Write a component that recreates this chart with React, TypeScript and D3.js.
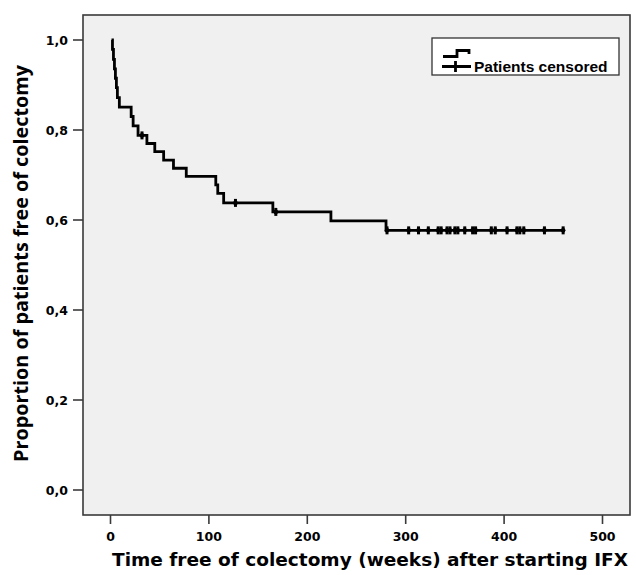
import React, { useEffect, useRef } from "react";
import * as d3 from "d3";

// Kaplan-Meier steps (weeks, proportion free of colectomy after the step)
const stepTimes = [1, 2, 3, 4, 5, 6, 7, 9, 21, 23, 28, 37, 45, 54, 64, 77, 107, 109, 115, 165, 224, 280];
const stepSurvival = [1.0, 0.979, 0.957, 0.936, 0.915, 0.894, 0.872, 0.851, 0.830, 0.809, 0.788, 0.770, 0.752, 0.733, 0.715, 0.697, 0.678, 0.659, 0.638, 0.618, 0.598, 0.577];
// censored patients (weeks)
const censorTimes = [32, 127, 168, 281, 303, 313, 323, 333, 336, 342, 345, 350, 353, 360, 368, 371, 387, 391, 403, 413, 416, 420, 441, 460];
const xTicks = [0, 100, 200, 300, 400, 500];
const yTicks = [0, 0.2, 0.4, 0.6, 0.8, 1.0];
const legendLabels = ["", "Patients censored"];

const W = 636, H = 575;
const tickFont = "'DejaVu Sans', Verdana, sans-serif";

export default function App() {
    const ref = useRef<SVGSVGElement>(null);

    useEffect(() => {
        document.body.style.margin = "0";
        const svg = d3.select(ref.current);
        svg.selectAll("*").remove();

        const x = d3.scaleLinear().domain([0, 500]).range([110.5, 602.5]);
        const y = d3.scaleLinear().domain([0, 1]).range([490, 40]);

        svg.append("rect").attr("width", W).attr("height", H).style("fill", "#ffffff");

        // plot frame
        svg.append("rect")
            .attr("x", 83).attr("y", 15)
            .attr("width", 547).attr("height", 500)
            .style("fill", "#f0f0f0")
            .style("stroke", "#3a3a3a")
            .style("stroke-width", 1.6);

        // y axis ticks
        const yg = svg.append("g");
        yTicks.forEach(v => {
            yg.append("line")
                .attr("x1", 73).attr("x2", 83)
                .attr("y1", y(v)).attr("y2", y(v))
                .style("stroke", "#3a3a3a").style("stroke-width", 1.6);
            yg.append("text")
                .attr("x", 68).attr("y", y(v) + 4.5)
                .attr("text-anchor", "end")
                .style("font-family", tickFont).style("font-weight", "bold").style("font-size", "12.5px")
                .text(d3.format(".1f")(v).replace(".", ","));
        });

        // x axis ticks
        const xg = svg.append("g");
        xTicks.forEach(v => {
            xg.append("line")
                .attr("x1", x(v)).attr("x2", x(v))
                .attr("y1", 515).attr("y2", 524)
                .style("stroke", "#3a3a3a").style("stroke-width", 1.6);
            xg.append("text")
                .attr("x", x(v)).attr("y", 541)
                .attr("text-anchor", "middle")
                .style("font-family", tickFont).style("font-weight", "bold").style("font-size", "12.5px")
                .text(v);
        });

        // axis titles
        svg.append("text")
            .attr("x", 112).attr("y", 566)
            .attr("textLength", 516)
            .attr("lengthAdjust", "spacingAndGlyphs")
            .style("font-family", tickFont).style("font-weight", "bold").style("font-size", "18px")
            .text("Time free of colectomy (weeks) after starting IFX");

        svg.append("text")
            .attr("transform", "translate(28,462) rotate(-90)")
            .attr("textLength", 397)
            .attr("lengthAdjust", "spacingAndGlyphs")
            .style("font-family", "'Open Sans', sans-serif").style("font-weight", "bold").style("font-size", "19px")
            .text("Proportion of patients free of colectomy");

        // survival curve
        const lastT = d3.max(censorTimes) as number;
        const pts: [number, number][] = stepTimes.map((t, i) => [t, stepSurvival[i]]);
        pts.push([lastT, stepSurvival[stepSurvival.length - 1]]);
        const line = d3.line<[number, number]>()
            .x(d => x(d[0])).y(d => y(d[1]))
            .curve(d3.curveStepAfter);
        svg.append("path")
            .attr("d", line(pts))
            .style("fill", "none")
            .style("stroke", "#000")
            .style("stroke-width", 2.8);

        const survAt = (t: number) => {
            let s = stepSurvival[0];
            stepTimes.forEach((st, i) => { if (st <= t) s = stepSurvival[i]; });
            return s;
        };
        svg.selectAll("line.censor")
            .data(censorTimes)
            .enter()
            .append("line")
                .attr("class", "censor")
                .attr("x1", d => x(d)).attr("x2", d => x(d))
                .attr("y1", d => y(survAt(d)) - 4).attr("y2", d => y(survAt(d)) + 4)
                .style("stroke", "#000")
                .style("stroke-width", 3);
        svg.selectAll("circle.censor")
            .data(censorTimes)
            .enter()
            .append("circle")
                .attr("class", "censor")
                .attr("cx", d => x(d)).attr("cy", d => y(survAt(d)))
                .attr("r", 2.3)
                .style("fill", "#000");

        // legend
        const lg = svg.append("g");
        lg.append("rect")
            .attr("x", 432).attr("y", 38)
            .attr("width", 187).attr("height", 37)
            .style("fill", "#fff")
            .style("stroke", "#333")
            .style("stroke-width", 1.3);
        lg.append("path")
            .attr("d", "M443,56.5H457V50.5H469V54")
            .style("fill", "none").style("stroke", "#000").style("stroke-width", 2.8);
        lg.append("path")
            .attr("d", "M442,66.5H471M455.5,61V72")
            .style("fill", "none").style("stroke", "#000").style("stroke-width", 2.8);
        legendLabels.forEach((l, i) => {
            lg.append("text")
                .attr("x", 474).attr("y", 57 + i * 15)
                .style("font-family", "'Liberation Sans', Arial, sans-serif").style("font-weight", "bold").style("font-size", "15.5px")
                .text(l);
        });
    }, []);

    return <svg ref={ref} width={W} height={H}></svg>;
}
